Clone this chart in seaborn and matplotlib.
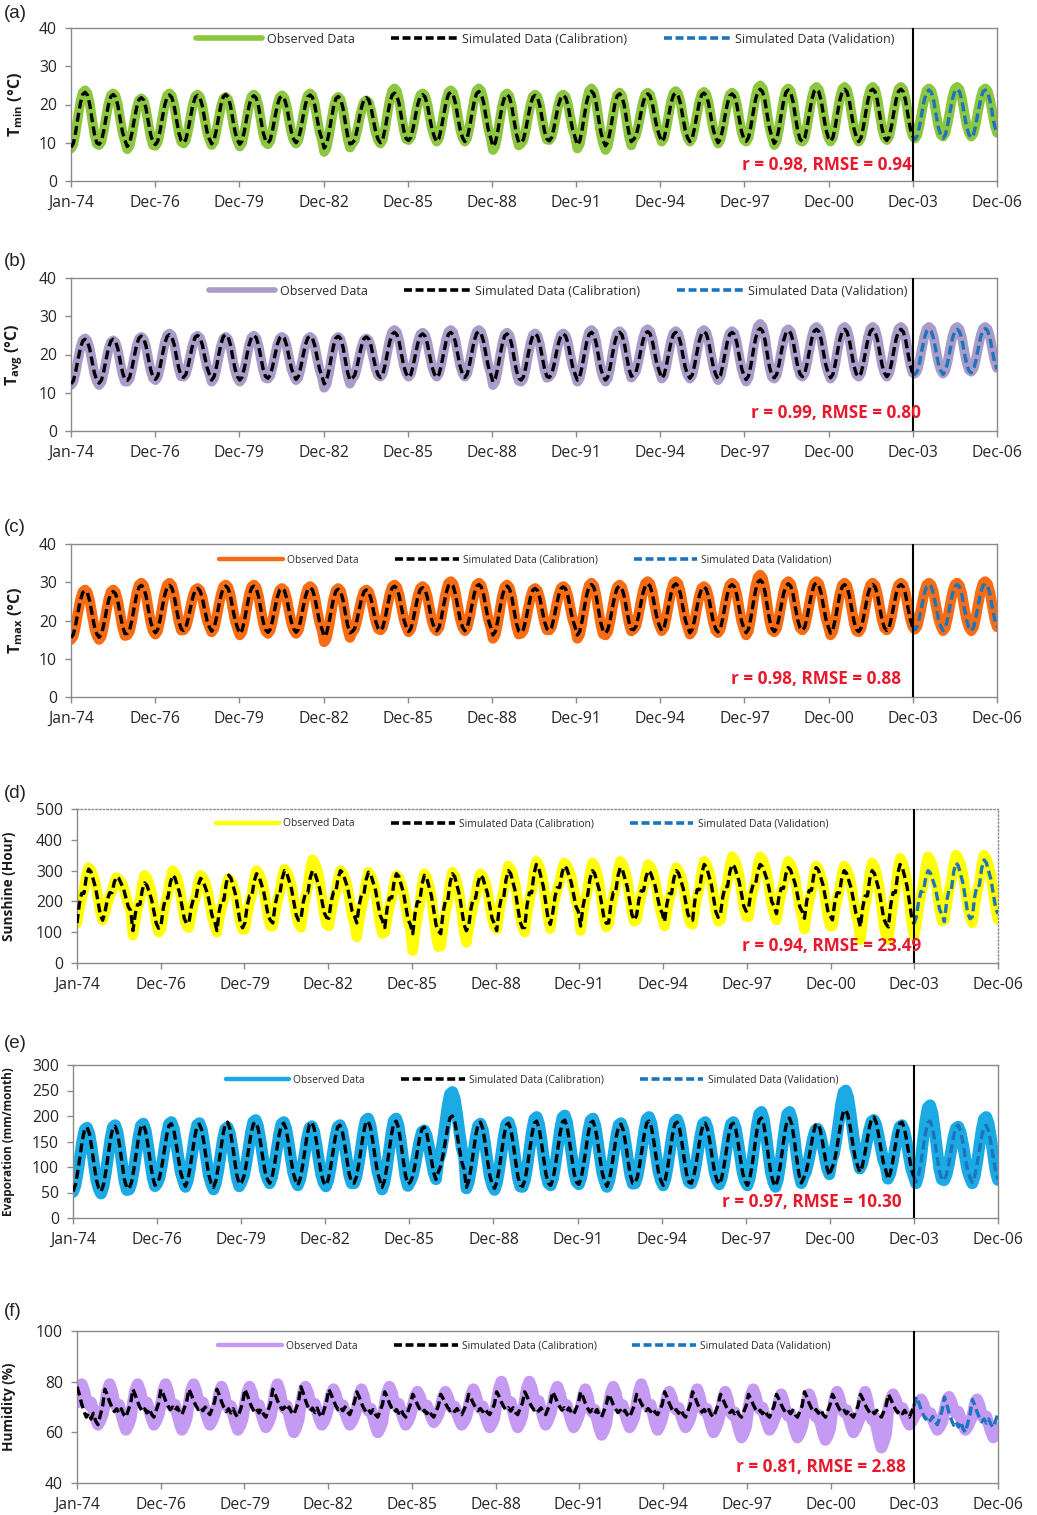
import numpy as np
import pandas as pd
import matplotlib
matplotlib.use("Agg")
import matplotlib.pyplot as plt
import seaborn as sns
from matplotlib.lines import Line2D

# ---------------- data ----------------
years = list(range(1974, 2007))
tick_labels = ["Jan-74", "Dec-76", "Dec-79", "Dec-82", "Dec-85", "Dec-88",
               "Dec-91", "Dec-94", "Dec-97", "Dec-00", "Dec-03", "Dec-06"]

# monthly seasonal profiles (0 = yearly low, 1 = yearly high), Jan..Dec
temp_shape = [0.0, 0.07, 0.28, 0.55, 0.80, 0.96, 1.0, 0.95, 0.78, 0.50, 0.24, 0.08]
sun_obs_shape = [0.0, 0.25, 0.45, 0.60, 0.85, 1.0, 0.95, 0.85, 0.70, 0.45, 0.20, 0.05]
sun_sim_shape = [0.0, 0.35, 0.55, 0.55, 0.85, 1.0, 0.95, 0.80, 0.65, 0.40, 0.15, 0.05]
evap_shape = [0.0, 0.10, 0.30, 0.55, 0.80, 0.97, 1.0, 0.90, 0.68, 0.42, 0.18, 0.05]
hum_obs_shape = [0.55, 0.85, 1.0, 0.85, 0.60, 0.50, 0.55, 0.35, 0.15, 0.0, 0.10, 0.25]
hum_sim_shape = [1.0, 0.80, 0.55, 0.35, 0.20, 0.30, 0.15, 0.30, 0.10, 0.0, 0.25, 0.50]

# yearly highs / lows, 1974..2006
tmin_obs_peak = [23.7,22.9,21.6,22.9,22.6,22.0,22.6,22.4,22.9,22.0,21.1,24.2,22.9,23.7,24.2,22.9,22.6,22.6,24.2,23.1,23.1,23.5,23.3,23.1,25.0,24.2,24.6,24.6,24.6,24.6,24.2,24.6,24.2]
tmin_sim_peak = [23.2,22.6,21.8,22.5,22.4,22.6,22.3,22.2,22.5,22.1,21.8,23.0,22.6,23.2,23.4,22.6,22.4,22.4,23.5,22.8,22.8,23.0,23.0,22.8,24.0,23.8,24.0,24.0,24.0,24.0,23.8,24.0,23.8]
tmin_obs_trough = [8.5,9.4,8.3,9.2,9.8,9.4,9.0,9.6,9.8,7.6,9.8,9.8,10.7,10.3,10.3,8.1,9.8,10.7,8.5,8.1,11.1,10.3,10.3,9.8,10.3,9.4,10.3,10.3,10.3,10.7,11.1,11.6,11.6]
tmin_sim_trough = [8.8,9.6,9.0,9.5,10.0,9.7,9.6,9.9,10.0,8.6,9.9,10.0,10.6,10.3,10.3,9.0,10.0,10.5,9.4,9.2,10.9,10.3,10.3,10.0,10.4,9.8,10.3,10.4,10.3,10.6,10.9,11.2,11.3]

tavg_obs_peak = [24.2,23.7,24.6,25.5,24.9,24.6,24.9,24.6,24.6,24.6,24.2,26.4,25.7,26.4,26.4,25.7,25.5,25.5,26.4,26.1,26.6,26.1,26.4,26.1,28.0,26.6,27.2,27.2,27.2,27.2,27.2,27.2,27.2]
tavg_sim_peak = [24.0,24.0,24.8,25.2,25.0,25.2,25.0,24.8,24.8,24.8,24.6,25.8,25.4,25.8,26.0,25.4,25.4,25.4,25.8,25.8,26.0,25.8,26.0,25.8,26.8,26.2,26.6,26.6,26.6,26.6,26.6,26.6,26.8]
tavg_obs_trough = [12.0,12.0,12.9,13.3,14.2,12.9,12.9,13.7,13.3,11.3,13.7,14.2,14.2,14.2,14.2,12.0,12.9,14.2,12.9,12.9,14.8,13.7,13.7,13.3,12.9,13.7,14.2,13.7,14.2,14.2,15.0,15.0,15.5]
tavg_sim_trough = [12.3,12.5,13.2,13.5,14.0,13.3,13.3,13.8,13.5,12.3,13.8,14.0,14.0,14.0,14.0,12.8,13.3,14.0,13.3,13.3,14.6,13.8,13.8,13.6,13.4,13.9,14.2,13.9,14.2,14.2,14.8,14.8,15.2]

tmax_obs_peak = [28.0,28.0,29.8,29.8,28.4,29.3,29.3,28.4,28.9,28.4,28.0,29.3,28.9,30.2,29.8,29.3,28.4,28.9,29.8,29.3,30.2,30.2,28.9,29.8,31.9,30.2,30.2,29.8,29.8,29.8,29.8,29.8,30.2]
tmax_sim_peak = [27.8,27.6,29.2,29.2,28.4,29.0,29.0,28.4,28.6,28.2,28.0,29.0,28.6,29.6,29.4,29.0,28.4,28.8,29.4,29.0,29.6,29.6,28.8,29.4,30.6,29.6,29.8,29.4,29.4,29.4,29.4,29.4,29.6]
tmax_obs_trough = [15.0,15.0,16.2,16.4,17.5,17.0,16.2,16.6,16.6,14.4,17.0,17.5,17.0,17.3,17.3,15.3,16.6,17.5,15.3,16.2,17.7,17.3,16.4,16.8,16.2,17.0,17.5,16.2,17.0,17.5,17.7,17.3,17.3]
tmax_sim_trough = [15.5,15.6,16.6,16.8,17.4,17.2,16.6,16.9,16.9,15.8,17.1,17.4,17.1,17.3,17.3,16.2,16.9,17.4,16.2,16.7,17.6,17.3,16.8,17.0,16.8,17.1,17.4,16.7,17.1,17.4,17.6,17.3,17.3]

sun_obs_peak = [310,278,285,300,285,275,300,305,335,300,295,285,290,295,290,315,330,325,325,330,320,310,330,345,345,330,315,315,325,340,345,350,350]
sun_sim_peak = [305,280,260,285,275,285,290,300,300,300,295,290,285,290,285,300,320,315,300,310,300,300,320,320,320,310,310,300,300,320,300,325,335]
sun_obs_trough = [130,165,90,110,115,100,110,120,115,120,85,100,40,55,110,110,100,170,105,125,140,120,125,140,150,140,110,120,75,75,125,140,130]
sun_sim_trough = [130,165,105,120,130,105,130,130,140,145,130,115,95,95,120,105,115,160,120,130,155,134,139,160,177,160,145,140,117,117,150,134,150]

evap_obs_peak = [177,182,185,188,186,178,192,188,180,182,195,195,172,247,185,188,198,201,195,186,198,193,188,188,208,208,175,250,192,182,221,179,198]
evap_sim_peak = [178,180,183,185,184,188,188,186,188,182,190,190,178,200,188,186,190,192,190,184,190,188,186,186,196,196,185,212,198,188,190,182,182]
evap_obs_trough = [51,48,56,68,61,56,71,68,64,62,68,56,71,113,58,55,61,64,66,61,68,64,68,66,64,61,81,113,97,77,68,74,68]
evap_sim_trough = [52,52,58,68,62,60,70,68,64,64,68,60,70,90,60,58,62,64,66,62,68,64,68,66,64,62,78,97,90,76,70,74,70]

hum_obs_max = [79,79,79,79,79,78,78,79,78,77,77,78,76,76,77,80,80,78,77,78,79,76,77,76,77,75,75,76,76,75,73,74,73]
hum_obs_min = [63,61,63,61,63,61,62,60,63,63,60,63,64,63,62,62,63,62,59,62,61,62,60,58,61,58,57,60,54,63,61,61,58]
hum_sim_max = [78,77,77,77,77,77,77,77,78,77,76,76,75,75,75,76,76,76,76,75,75,76,76,75,75,75,76,75,75,75,74,74,73]
hum_sim_min = [63,66,66,67,67,66,66,67,66,67,66,66,66,67,67,67,67,67,66,66,67,66,66,66,66,66,66,66,66,66,63,60,62]

stats_text = ["r = 0.98, RMSE = 0.94", "r = 0.99, RMSE = 0.80", "r = 0.98, RMSE = 0.88",
              "r = 0.94, RMSE = 23.49", "r = 0.97, RMSE = 10.30", "r = 0.81, RMSE = 2.88"]
panel_letters = ["(a)", "(b)", "(c)", "(d)", "(e)", "(f)"]
legend_labels = ["Observed Data", "Simulated Data (Calibration)", "Simulated Data (Validation)"]
calib_end = "2003-12"


def build(highs, lows, shape):
    vals = []
    for hi, lo in zip(highs, lows):
        for s in shape:
            vals.append(lo + (hi - lo) * s)
    return np.array(vals)


dates = pd.period_range("1974-01", "2006-12", freq="M")
n_months = len(dates)
idx = np.arange(n_months)
split = int(np.where(dates == pd.Period(calib_end, "M"))[0][0])

panels = [
    dict(obs=build(tmin_obs_peak, tmin_obs_trough, temp_shape),
         sim=build(tmin_sim_peak, tmin_sim_trough, temp_shape),
         color="#8DC63F", ylim=(0, 40), yticks=[0, 10, 20, 30, 40],
         ylabel=r"$\mathbf{T_{min}}$" + " (°C)", ylab_fs=11.5, obs_lw=7.0),
    dict(obs=build(tavg_obs_peak, tavg_obs_trough, temp_shape),
         sim=build(tavg_sim_peak, tavg_sim_trough, temp_shape),
         color="#AA9CC8", ylim=(0, 40), yticks=[0, 10, 20, 30, 40],
         ylabel=r"$\mathbf{T_{avg}}$" + " (°C)", ylab_fs=11.5, obs_lw=7.0),
    dict(obs=build(tmax_obs_peak, tmax_obs_trough, temp_shape),
         sim=build(tmax_sim_peak, tmax_sim_trough, temp_shape),
         color="#F86C14", ylim=(0, 40), yticks=[0, 10, 20, 30, 40],
         ylabel=r"$\mathbf{T_{max}}$" + " (°C)", ylab_fs=11.5, obs_lw=7.5),
    dict(obs=build(sun_obs_peak, sun_obs_trough, sun_obs_shape),
         sim=build(sun_sim_peak, sun_sim_trough, sun_sim_shape),
         color="#FFFF00", ylim=(0, 500), yticks=[0, 100, 200, 300, 400, 500],
         ylabel="Sunshine (Hour)", ylab_fs=9.8, obs_lw=7.5),
    dict(obs=build(evap_obs_peak, evap_obs_trough, evap_shape),
         sim=build(evap_sim_peak, evap_sim_trough, evap_shape),
         color="#1BAAE3", ylim=(0, 300), yticks=[0, 50, 100, 150, 200, 250, 300],
         ylabel="Evaporation (mm/month)", ylab_fs=8.5, obs_lw=8.5),
    dict(obs=build(hum_obs_max, hum_obs_min, hum_obs_shape),
         sim=build(hum_sim_max, hum_sim_min, hum_sim_shape),
         color="#C59AF3", ylim=(40, 100), yticks=[40, 60, 80, 100],
         ylabel="Humidity (%)", ylab_fs=9.8, obs_lw=8.5),
]

# ---------------- layout (pixels of a 1037x1515 canvas) ----------------
W, H = 1037, 1515
boxes = [(71, 997, 28, 181), (71, 997, 278, 431), (71, 997, 544, 697),
         (77, 998, 809, 963), (73, 998, 1065, 1218), (77, 998, 1331, 1483)]
letter_y = [14, 262, 527, 793, 1043, 1312]
leg_pos = [(0.512, 0.928), (0.526, 0.915), (0.491, 0.895), (0.483, 0.903), (0.496, 0.900), (0.486, 0.900)]
leg_fs = [9.0, 9.0, 7.4, 7.4, 7.4, 7.4]
stat_pos = [(0.908, 0.105), (0.918, 0.118), (0.897, 0.118), (0.917, 0.110), (0.896, 0.105), (0.900, 0.105)]
ylab_x = [-0.050, -0.050, -0.050, -0.066, -0.063, -0.066]

sns.set_theme(style="white")
plt.rcParams["font.family"] = ["Open Sans", "DejaVu Sans"]
plt.rcParams["mathtext.fontset"] = "custom"
plt.rcParams["mathtext.rm"] = "Open Sans"
plt.rcParams["mathtext.bf"] = "Open Sans:bold"

fig = plt.figure(figsize=(W / 100, H / 100), dpi=100)
spine_col = "#8A8A8A"
val_col = "#1C75BC"

for i, (p, (x0, x1, y0, y1)) in enumerate(zip(panels, boxes)):
    ax = fig.add_axes([x0 / W, 1 - y1 / H, (x1 - x0) / W, (y1 - y0) / H])
    df = pd.DataFrame({"t": idx, "obs": p["obs"], "sim": p["sim"]})
    sns.lineplot(data=df, x="t", y="obs", ax=ax, color=p["color"], lw=p["obs_lw"],
                 solid_capstyle="round", solid_joinstyle="round", zorder=2)
    cal = df.iloc[:split + 1]
    val = df.iloc[split:]
    sns.lineplot(data=cal, x="t", y="sim", ax=ax, color="black", lw=2.4, zorder=3)
    ax.lines[-1].set_dashes((2.7, 1.3))
    sns.lineplot(data=val, x="t", y="sim", ax=ax, color=val_col, lw=2.4, zorder=3)
    ax.lines[-1].set_dashes((2.7, 1.3))
    ax.axvline(split, color="black", lw=1.5, zorder=4)

    ax.set_xlim(0, n_months - 1)
    ax.set_ylim(*p["ylim"])
    ax.set_yticks(p["yticks"])
    ax.set_xticks(np.linspace(0, n_months - 1, len(tick_labels)))
    ax.set_xticklabels(tick_labels)
    ax.set_xlabel("")
    ax.set_ylabel(p["ylabel"], fontsize=p["ylab_fs"], fontweight="bold", color="#1a1a1a")
    ax.yaxis.set_label_coords(ylab_x[i], 0.5)
    ax.tick_params(axis="both", which="major", labelsize=11.3, colors="#262626",
                   length=4, width=1, direction="out", pad=6)
    ax.tick_params(axis="both", color=spine_col)
    ax.xaxis.set_tick_params(bottom=True)
    ax.yaxis.set_tick_params(left=True)
    for s in ax.spines.values():
        s.set_visible(True)
        s.set_color(spine_col)
        s.set_linewidth(1.0)
    if i == 3:
        ax.spines["top"].set_linestyle(":")
        ax.spines["right"].set_linestyle(":")
    ax.grid(False)

    obs_lw = 4.0 if i < 2 else 3.2
    handles = [Line2D([0], [0], color=p["color"], lw=obs_lw),
               Line2D([0], [0], color="black", lw=2.6, dashes=(2.2, 1.0)),
               Line2D([0], [0], color=val_col, lw=2.6, dashes=(2.2, 1.0))]
    ax.legend(handles, legend_labels, loc="center", bbox_to_anchor=leg_pos[i], ncol=3,
              frameon=False, fontsize=leg_fs[i], handlelength=5.3 if i < 2 else 6.2,
              handletextpad=0.4, columnspacing=2.9 if i < 2 else 3.5, borderaxespad=0,
              labelcolor="#2b2b2b")

    ax.text(stat_pos[i][0], stat_pos[i][1], stats_text[i], transform=ax.transAxes,
            ha="right", va="center", color="#E8192C", fontsize=12.3, fontweight="bold", zorder=5)

    fig.text(4 / W, 1 - letter_y[i] / H, panel_letters[i], fontsize=13.5, ha="left", va="center",
             family=["Liberation Sans", "DejaVu Sans"], color="#222222")

fig.savefig("out.png", dpi=100)
